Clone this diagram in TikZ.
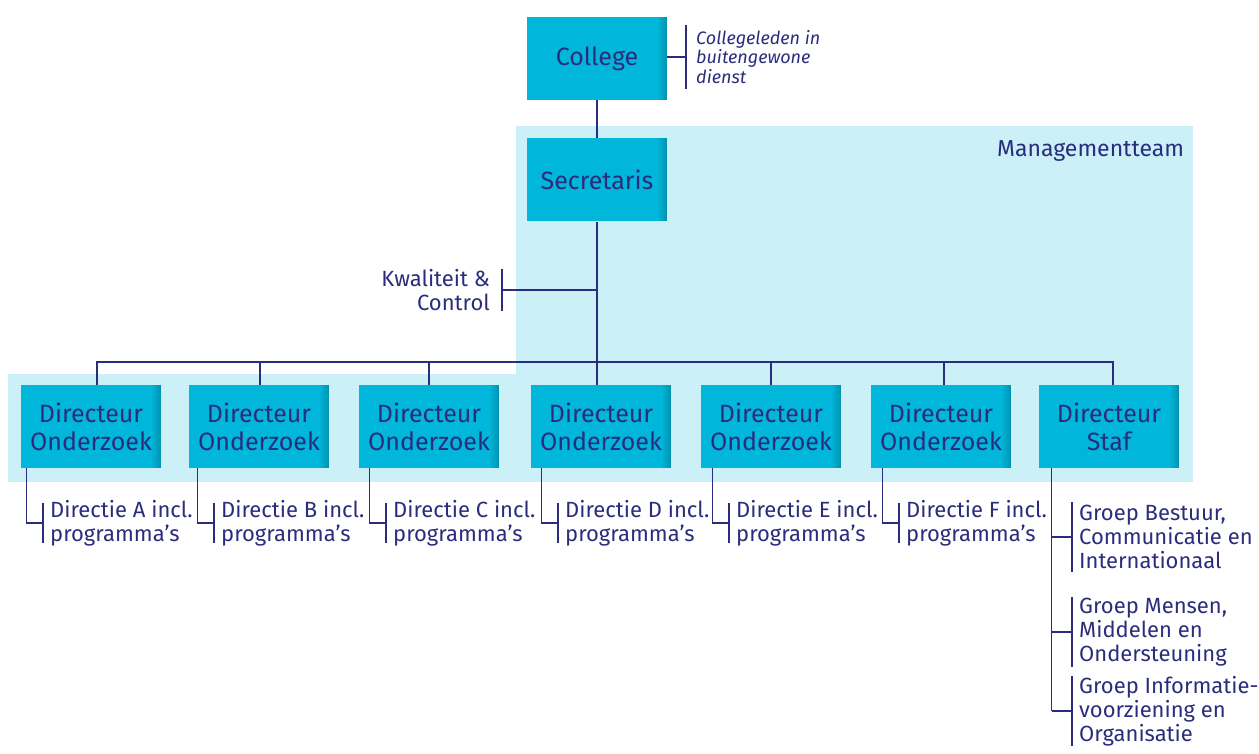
\documentclass[tikz,border=0pt]{standalone}
\usepackage{fontspec}
\setmainfont{Fira Sans}
\definecolor{navy}{HTML}{2B2C7C}
\definecolor{boxc}{HTML}{00B6DA}
\definecolor{boxd}{HTML}{0094B2}
\definecolor{mt}{HTML}{CBF0F8}
\begin{document}
\begin{tikzpicture}[x=1pt,y=-1pt,
  box/.style={fill=boxc, minimum width=140pt, minimum height=83pt, inner sep=0pt,
    text=navy, align=center, font=\fontsize{25}{28}\selectfont,
    path picture={\foreach \k in {1,...,9}{\pgfmathsetmacro{\pc}{11*\k}
      \fill[boxd!\pc!boxc] ([xshift=-10pt+\k pt]path picture bounding box.north east) rectangle (path picture bounding box.south east);}}},
  lab/.style={anchor=west, text=navy, align=left, inner sep=0pt, font=\fontsize{22}{24}\selectfont},
  con/.style={draw=navy, line width=1.3pt}]
\useasboundingbox (0,0) rectangle (1259,754);
% management team background
\fill[mt] (516,126) rectangle (1193,374);
\fill[mt] (8,374) rectangle (1193,482);
\node[anchor=base west, text=navy, inner sep=0pt, font=\fontsize{23}{24}\selectfont] (mtl) at (997,157) {Managementteam};

% top
\node[box] (col) at (597,58.5) {College};
\node[box] (sec) at (597,180) {Secretaris};
\draw[con] (col.south) -- (sec.north);

% college annotation
\node[lab, font=\fontsize{18}{19.5}\selectfont\itshape] (cg) at (696,57) {Collegeleden in\\buitengewone\\dienst};
\coordinate (cgb) at ([xshift=-10pt]cg.west);
\draw[con] (col.east |- cgb) -- (cgb);
\draw[con] ([yshift=32pt]cgb) -- ([yshift=-32pt]cgb);

% kwaliteit
\node[lab, anchor=east, align=right] (kw) at (490,290) {Kwaliteit \&\\Control};
\coordinate (kb) at ([xshift=12pt]kw.east);
\draw[con] ([yshift=21pt]kb) -- ([yshift=-21pt]kb);
\draw[con] (kb) -- (kb -| sec.south);

% bus
\coordinate (bus) at (597,362);
\draw[con] (sec.south) -- (bus);

% directeur onderzoek boxes
\foreach \i/\cx/\dr/\lg/\L in {1/91/6/6/A, 2/259/1/9/B, 3/429/0/11/C, 4/601/-4/11/D, 5/771/0/12/E, 6/941/3/12/F}{
  \node[box] (d\i) at (\cx,426.5) {Directeur\\Onderzoek};
  \draw[con] (bus) -| ([xshift=\dr pt]d\i.north);
  \node[lab] (l\i) at (\cx-70+\lg+23,523) {Directie \L\ incl.\\programma’s};
  \coordinate (lb\i) at ([xshift=-7pt]l\i.west);
  \draw[con] ([xshift=\lg pt]d\i.south west) |- (lb\i);
  \draw[con] ([yshift=20pt]lb\i) -- ([yshift=-20pt]lb\i);
}

% staf
\node[box] (staf) at (1109,426.5) {Directeur\\Staf};
\draw[con] (bus) -| ([xshift=4pt]staf.north);
\node[lab] (g1) at (1079,537) {Groep Bestuur,\\Communicatie en\\Internationaal};
\node[lab] (g2) at (1079,632) {Groep Mensen,\\Middelen en\\Ondersteuning};
\node[lab] (g3) at (1079,711) {Groep Informatie-\\voorziening en\\Organisatie};
\coordinate (sl) at ([xshift=13pt]staf.south west);
\foreach \g in {g1,g2,g3}{
  \coordinate (b\g) at ([xshift=-7pt]\g.west);
  \draw[con] ([yshift=35pt]b\g) -- ([yshift=-35pt]b\g);
  \draw[con] (sl |- b\g) -- (b\g);
}
\draw[con] (sl) -- (sl |- bg3);
\end{tikzpicture}
\end{document}
